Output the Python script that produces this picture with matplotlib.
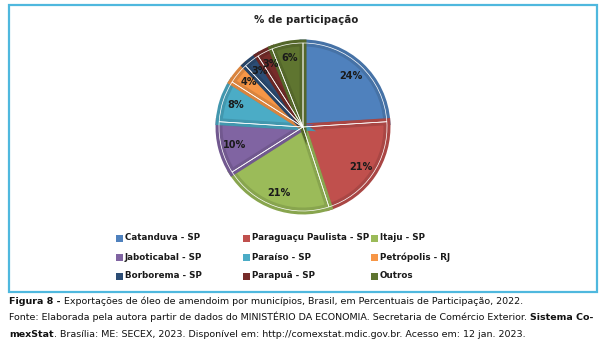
import matplotlib.pyplot as plt
import matplotlib.colors as mc
from matplotlib.patches import Rectangle
import numpy as np

# participação de cada município nas exportações (%)
municipios = ['Catanduva - SP', 'Paraguaçu Paulista - SP', 'Itaju - SP',
              'Jaboticabal - SP', 'Paraíso - SP', 'Petrópolis - RJ',
              'Borborema - SP', 'Parapuã - SP', 'Outros']
participacao = [24, 21, 21, 10, 8, 4, 3, 3, 6]
cores = ['#4F81BD', '#C0504D', '#9BBB59', '#8064A2', '#4BACC6',
         '#F79646', '#2C4D75', '#772C2A', '#5F7530']

titulo = '% de participação'
legenda1 = [('Figura 8 - ', 'bold'),
            ('Exportações de óleo de amendoim por municípios, Brasil, em Percentuais de Participação, 2022.', 'normal')]
legenda2 = [('Fonte: Elaborada pela autora partir de dados do MINISTÉRIO DA ECONOMIA. Secretaria de Comércio Exterior. ', 'normal'),
            ('Sistema Co-', 'bold')]
legenda3 = [('mexStat', 'bold'),
            ('. Brasília: ME: SECEX, 2023. Disponível em: http://comexstat.mdic.gov.br. Acesso em: 12 jan. 2023.', 'normal')]

plt.rcParams['font.family'] = ['DejaVu Sans']
W, H = 612, 349
fig = plt.figure(figsize=(W / 100, H / 100), dpi=100)
fig.patch.set_facecolor('white')


def fx(x):
    return x / W


def fy(y):
    return 1 - y / H


# moldura azul do gráfico
fig.patches.append(Rectangle((fx(9), fy(292)), 588 / W, 287 / H, transform=fig.transFigure,
                             fill=False, edgecolor='#4FB8DE', linewidth=1.6))

fig.text(fx(306), fy(20), titulo, ha='center', va='center', fontsize=7.4, fontweight='bold',
         color='#222222')

cx, cy, r = 303, 127, 84
ax = fig.add_axes([fx(cx - r), fy(cy + r), 2 * r / W, 2 * r / H])


def escurecer(c, f=0.88):
    return tuple(np.array(mc.to_rgb(c)) * f)


wedges, textos, pcts = ax.pie(participacao, colors=cores, startangle=90, counterclock=False,
                              autopct='%.0f%%', pctdistance=0.84,
                              textprops=dict(fontsize=7, fontweight='bold', color='#1a1a1a'))
# borda interna mais escura em cada fatia
for w, c in zip(wedges, cores):
    w.set_edgecolor(escurecer(c))
    w.set_linewidth(5)
    w.set_clip_path(w)
# separadores brancos finos
ax.pie(participacao, startangle=90, counterclock=False,
       wedgeprops=dict(facecolor='none', edgecolor='white', linewidth=0.5))
for t in pcts:
    t.set_zorder(5)
ax.set_xlim(-1, 1)
ax.set_ylim(-1, 1)
ax.set_aspect('equal')

# legenda em três colunas, preenchida por linhas
col_x = [116, 243, 371]
row_y = [238, 257, 276]
for i, (nome, cor) in enumerate(zip(municipios, cores)):
    x, y = col_x[i % 3], row_y[i // 3]
    fig.patches.append(Rectangle((fx(x), fy(y + 3.5)), 7 / W, 7 / H, transform=fig.transFigure,
                                 facecolor=cor, edgecolor='none'))
    fig.text(fx(x + 9), fy(y), nome, ha='left', va='center', fontsize=6.3, fontweight='bold',
             color='#1a1a1a')

renderer = fig.canvas.get_renderer()


def linha(partes, x, y, size=6.8):
    # escreve trechos em sequência, cada um com seu peso de fonte
    for s, peso in partes:
        t = fig.text(fx(x), fy(y), s, fontsize=size, fontweight=peso, va='baseline', color='#111111')
        x = t.get_window_extent(renderer).x1


linha(legenda1, 9, 304)
linha(legenda2, 9, 320)
linha(legenda3, 9, 337)

fig.savefig('out.png', dpi=100, facecolor='white')
